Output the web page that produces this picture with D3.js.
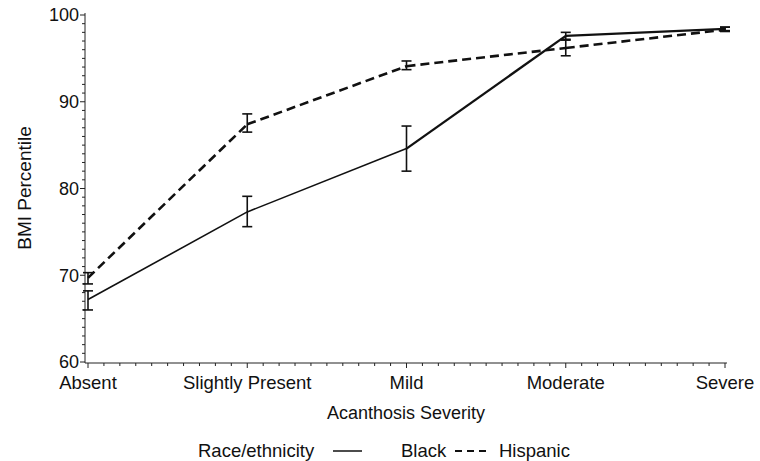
<!DOCTYPE html>
<html><head><meta charset="utf-8">
<script src="https://cdn.jsdelivr.net/npm/d3@7"></script>
<style>
html,body{margin:0;padding:0;background:#fff;}
text{font-family:"Liberation Sans",Arial,Helvetica,sans-serif;fill:#111;}
</style></head>
<body>
<svg id="chart" width="760" height="461"></svg>
<script>
const categories = ["Absent","Slightly Present","Mild","Moderate","Severe"];
const blackMean  = [67.2, 77.3, 84.6, 97.6, 98.4];
const blackLow   = [66.0, 75.6, 82.0, 97.2, 98.2];
const blackHigh  = [68.2, 79.1, 87.2, 98.0, 98.6];
const hispMean   = [69.7, 87.4, 94.1, 96.2, 98.3];
const hispLow    = [69.0, 86.5, 93.7, 95.3, 98.1];
const hispHigh   = [70.3, 88.6, 94.7, 97.1, 98.6];
const yTicks     = [60, 70, 80, 90, 100];
const seriesNames = ["Black", "Hispanic"];

const svg = d3.select("#chart");
const x = d3.scaleLinear().domain([1,5]).range([88,725]);
const y = d3.scaleLinear().domain([60,100]).range([362,15]);
const x0 = 85, x1 = 727, yb = 363, yt = 13;

const ax = svg.append("g").attr("stroke","#222").attr("stroke-width",1).attr("fill","none");
ax.append("line").attr("x1",x0).attr("x2",x0).attr("y1",yt).attr("y2",yb);
ax.append("line").attr("x1",x0).attr("x2",x1).attr("y1",yb).attr("y2",yb);

d3.range(60,100.01,1).forEach(v=>{
  const major = v % 10 === 0;
  ax.append("line").attr("x1",x0).attr("x2",x0-(major?5:3)).attr("y1",y(v)).attr("y2",y(v));
});
svg.append("g").selectAll("text").data(yTicks).join("text")
  .attr("x",x0-6).attr("y",d=>y(d)).attr("dy","0.36em").attr("text-anchor","end")
  .attr("font-size",18).text(d=>d);

d3.range(1,5.001,0.1).forEach(v=>{
  const major = Math.abs(v-Math.round(v))<1e-6;
  ax.append("line").attr("x1",x(v)).attr("x2",x(v)).attr("y1",yb).attr("y2",yb+(major?5:3));
});
svg.append("g").selectAll("text").data(categories).join("text")
  .attr("x",(d,i)=>x(i+1)).attr("y",389).attr("text-anchor","middle")
  .attr("font-size",18.5).text(d=>d);

svg.append("text").attr("transform",`translate(31,${(yt+yb)/2}) rotate(-90)`)
  .attr("text-anchor","middle").attr("font-size",19).text("BMI Percentile");
svg.append("text").attr("x",(x0+x1)/2).attr("y",419).attr("text-anchor","middle")
  .attr("font-size",18).text("Acanthosis Severity");

function drawSeries(mean, lo, hi, dash, widthFn){
  const g = svg.append("g");
  const pts = mean.map((m,i)=>[x(i+1), y(m)]);
  for (let i=0;i<pts.length-1;i++){
    g.append("path").attr("d", d3.line()([pts[i],pts[i+1]])).attr("fill","none").attr("stroke","#111")
      .attr("stroke-width",widthFn(i)).attr("stroke-dasharray",dash);
  }
  mean.forEach((m,i)=>{
    const cx = x(i+1), cw = 5;
    g.append("line").attr("x1",cx).attr("x2",cx).attr("y1",y(lo[i])).attr("y2",y(hi[i]))
      .attr("stroke","#111").attr("stroke-width",1.6);
    g.append("line").attr("x1",cx-cw).attr("x2",cx+cw).attr("y1",y(lo[i])).attr("y2",y(lo[i]))
      .attr("stroke","#111").attr("stroke-width",1.6);
    g.append("line").attr("x1",cx-cw).attr("x2",cx+cw).attr("y1",y(hi[i])).attr("y2",y(hi[i]))
      .attr("stroke","#111").attr("stroke-width",1.6);
  });
}
drawSeries(blackMean, blackLow, blackHigh, null, i => i>=2 ? 2.3 : 1.6);
drawSeries(hispMean, hispLow, hispHigh, "9,5", i => 2.6);

const lg = svg.append("g");
lg.append("text").attr("x",198).attr("y",457).attr("font-size",18.5).text("Race/ethnicity");
lg.append("line").attr("x1",333).attr("x2",362).attr("y1",451).attr("y2",451)
  .attr("stroke","#111").attr("stroke-width",1.5);
lg.append("text").attr("x",401).attr("y",457).attr("font-size",18.5).text(seriesNames[0]);
lg.append("line").attr("x1",455).attr("x2",490).attr("y1",451).attr("y2",451)
  .attr("stroke","#111").attr("stroke-width",2).attr("stroke-dasharray","7,5");
lg.append("text").attr("x",499).attr("y",457).attr("font-size",18.5).text(seriesNames[1]);
</script>
</body></html>
